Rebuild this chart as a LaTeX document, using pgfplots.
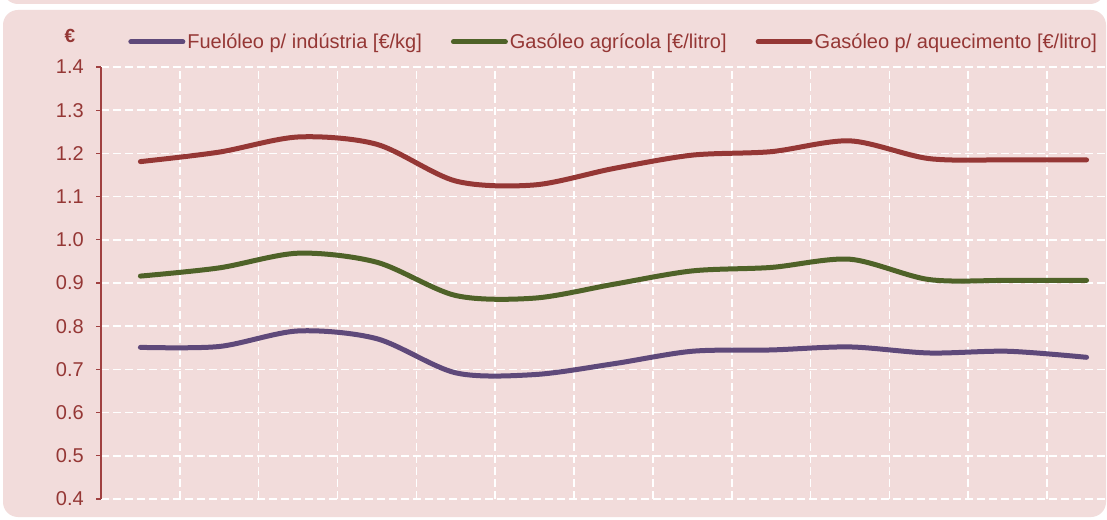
\documentclass[border=0pt]{standalone}
\usepackage{fontspec}
\setmainfont{Liberation Sans}
\usepackage{pgfplots}
\pgfplotsset{compat=1.18}

\definecolor{bgpink}{HTML}{F2DCDB}
\definecolor{txtred}{HTML}{953735}
\definecolor{axred}{HTML}{A04040}
\definecolor{lnred}{HTML}{953735}
\definecolor{lngreen}{HTML}{4F6228}
\definecolor{lnpurple}{HTML}{5F497A}

\begin{document}
\begin{tikzpicture}[x=1pt,y=1pt]
  \path[use as bounding box, clip] (0,0) rectangle (1107,519);
  \fill[white] (0,0) rectangle (1107,519);
  \fill[bgpink, rounded corners=15pt] (3,515) rectangle (1105,560);
  \fill[bgpink, rounded corners=15pt] (3,2) rectangle (1106,509);

  \begin{axis}[
    at={(101pt,20pt)}, anchor=south west,
    scale only axis,
    width=1006pt, height=432pt,
    xmin=0, xmax=12.76,
    ymin=0.4, ymax=1.4,
    xtick={0,1,...,12},
    xticklabels={},
    ytick={0.4,0.5,...,1.41},
    axis lines*=left,
    axis line style={axred, line width=1.2pt, -},
    x axis line style={draw=none},
    major tick length=5pt,
    tick align=outside,
    ytick style={axred, line width=1.2pt},
    xtick style={draw=none},
    grid=major,
    major grid style={white, line width=1.6pt, dash pattern=on 8pt off 4pt},
    yticklabel style={text=txtred, font=\fontsize{20}{24}\selectfont, inner sep=0pt, xshift=-12pt},
    /pgf/number format/assume math mode=true,
    /pgf/number format/.cd, fixed, fixed zerofill, precision=1, /pgfplots/.cd,
    legend columns=3,
    legend style={draw=none, fill=none, at={(axis description cs:0.027,1.058)},
      anchor=west, inner sep=0pt, text=txtred,
      font=\fontsize{20}{24}\selectfont,
      nodes={inner xsep=2pt, inner ysep=1pt},
      /tikz/every even column/.append style={column sep=27pt}},
    legend cell align=left,
    legend image code/.code={\draw[#1, line cap=round] (0pt,0pt) -- (52pt,0pt);},
    every axis plot/.append style={line width=5pt, smooth, tension=0.5, line cap=round},
  ]
    \addplot[lnpurple] coordinates {
      (0.5,0.751) (1.5,0.753) (2.5,0.789) (3.5,0.771) (4.5,0.692) (5.5,0.688)
      (6.5,0.713) (7.5,0.742) (8.5,0.745) (9.5,0.752) (10.5,0.738) (11.5,0.742) (12.5,0.728)
    };
    \addlegendentry{Fuelóleo p/ indústria [€/kg]}
    \addplot[lngreen] coordinates {
      (0.5,0.916) (1.5,0.935) (2.5,0.969) (3.5,0.948) (4.5,0.871) (5.5,0.865)
      (6.5,0.897) (7.5,0.928) (8.5,0.936) (9.5,0.955) (10.5,0.908) (11.5,0.906) (12.5,0.906)
    };
    \addlegendentry{Gasóleo agrícola [€/litro]}
    \addplot[lnred] coordinates {
      (0.5,1.181) (1.5,1.203) (2.5,1.238) (3.5,1.221) (4.5,1.136) (5.5,1.127)
      (6.5,1.165) (7.5,1.196) (8.5,1.204) (9.5,1.229) (10.5,1.188) (11.5,1.185) (12.5,1.185)
    };
    \addlegendentry{Gasóleo p/ aquecimento [€/litro]}
  \end{axis}
  \node[text=txtred, font=\fontsize{19}{22}\selectfont\bfseries] at (70,483) {€};
\end{tikzpicture}
\end{document}
